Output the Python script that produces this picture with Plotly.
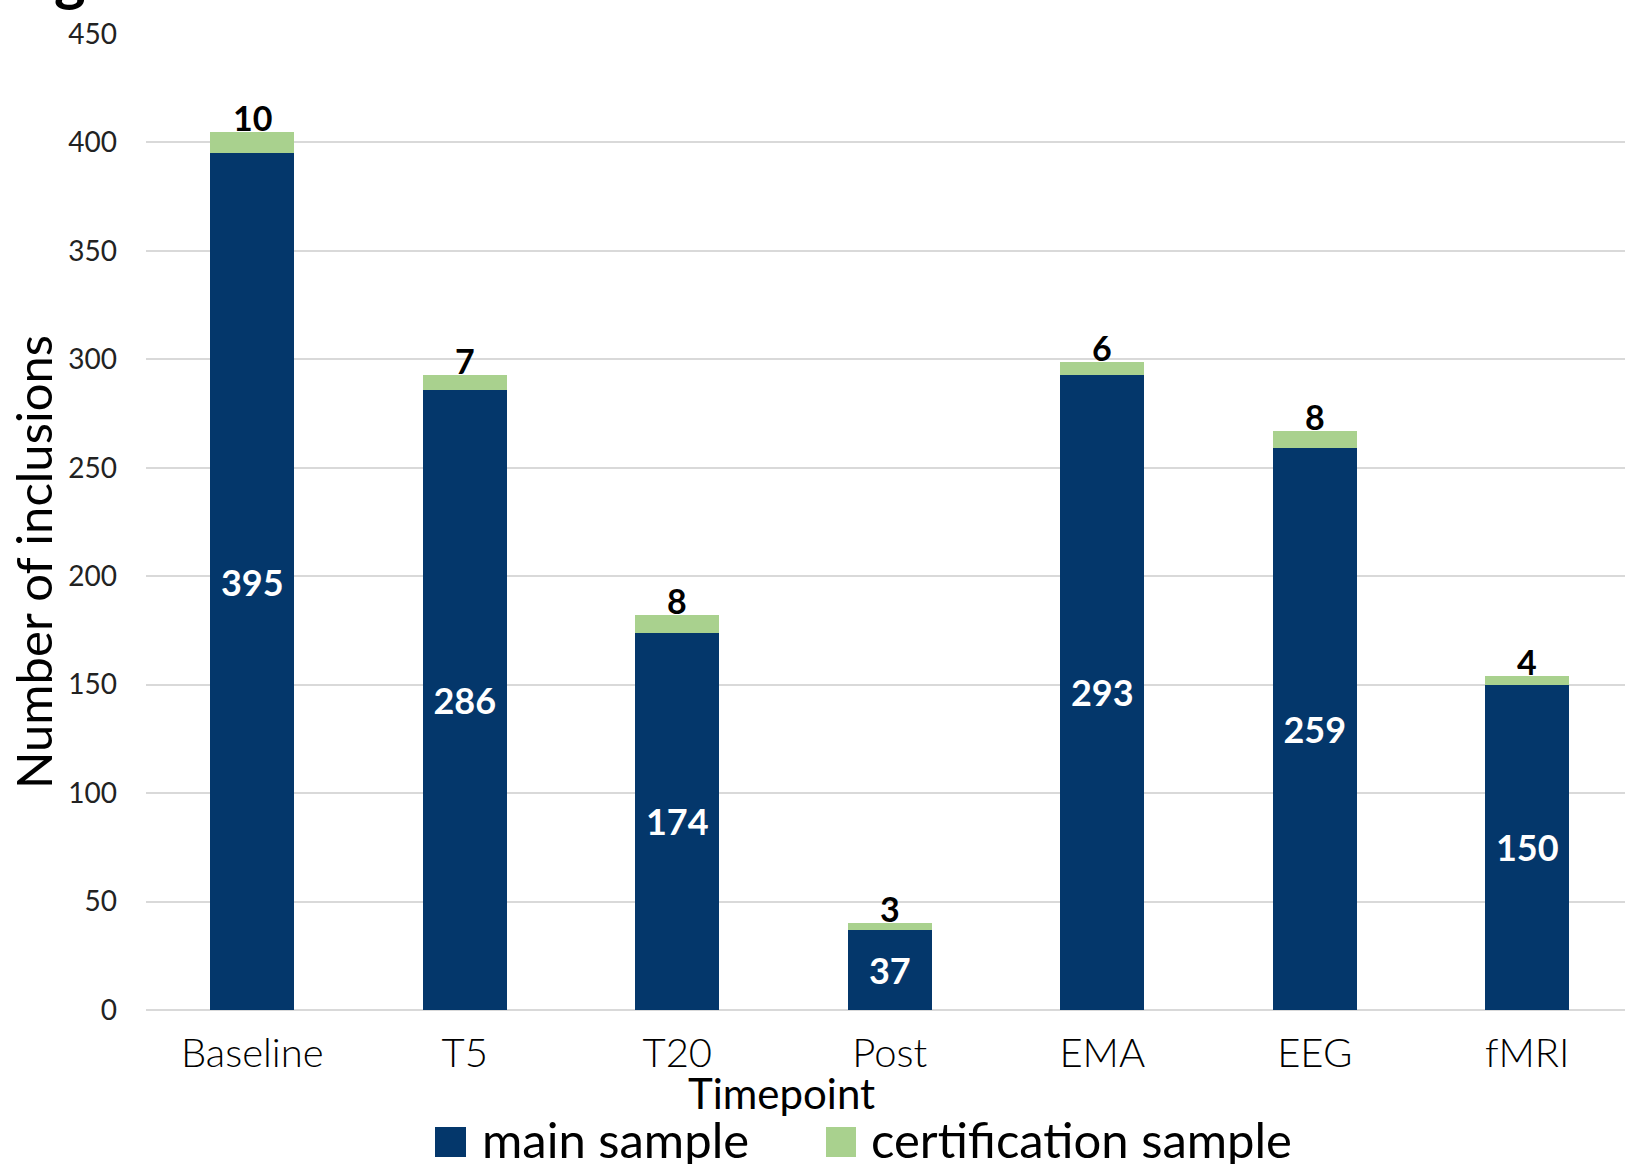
import plotly.graph_objects as go

categories = ["Baseline", "T5", "T20", "Post", "EMA", "EEG", "fMRI"]
main_sample = [395, 286, 174, 37, 293, 259, 150]
cert_sample = [10, 7, 8, 3, 6, 8, 4]
y_ticks = [0, 50, 100, 150, 200, 250, 300, 350, 400, 450]

NAVY = "#04376B"
GREEN = "#A9D18E"
FONT = "Lato"

W, H = 1625, 1164
L, R, T, B = 146, 0, 34, 154
plot_h = H - T - B
plot_w = W - L - R

def py(pix):
    return (H - B - pix) / plot_h

def px(pix):
    return (pix - L) / plot_w

fig = go.Figure()
fig.add_trace(go.Bar(
    x=categories, y=main_sample, name="main sample",
    marker=dict(color=NAVY, line=dict(width=0)),
    text=[str(v) for v in main_sample], textposition="inside",
    insidetextanchor="middle", constraintext="none",
    textfont=dict(family=FONT, size=36, color="white", weight="bold"),
    showlegend=False,
))
fig.add_trace(go.Bar(
    x=categories, y=cert_sample, name="certification sample",
    marker=dict(color=GREEN, line=dict(width=0)),
    showlegend=False,
))

fig.update_layout(
    width=W, height=H,
    margin=dict(l=L, r=R, t=T, b=B, pad=0),
    barmode="stack", bargap=0.605,
    plot_bgcolor="white", paper_bgcolor="white",
    font=dict(family=FONT, color="black"),
    xaxis=dict(
        range=[-0.5, -0.5 + plot_w / 212.5],
        showgrid=False, showline=False, ticks="",
        tickfont=dict(family=FONT, size=40, color="black", weight=300),
        ticklabelstandoff=16,
    ),
    yaxis=dict(
        range=[0, 450], tickvals=y_ticks,
        showgrid=True, gridcolor="#D9D9D9", gridwidth=2,
        zeroline=True, zerolinecolor="#D9D9D9", zerolinewidth=2,
        showline=False, ticks="",
        tickfont=dict(family=FONT, size=28, color="#222222"),
        ticklabelstandoff=28,
    ),
)

annotations = []
for cat, m, c in zip(categories, main_sample, cert_sample):
    annotations.append(dict(
        text=str(c), x=cat, y=m + c, xref="x", yref="y",
        xanchor="center", yanchor="bottom", yshift=-8, showarrow=False,
        font=dict(family=FONT, size=34, color="black", weight="bold"),
    ))

annotations += [
    dict(text="Number of inclusions", textangle=-90, x=px(33), y=py(562),
         xref="paper", yref="paper", xanchor="center", yanchor="middle",
         showarrow=False, font=dict(family=FONT, size=49, color="black")),
    dict(text="Timepoint", x=px(781), y=py(1093),
         xref="paper", yref="paper", xanchor="center", yanchor="middle",
         showarrow=False, font=dict(family=FONT, size=42, color="black")),
    dict(text="main sample", x=px(480), y=py(1139),
         xref="paper", yref="paper", xanchor="left", yanchor="middle",
         showarrow=False, font=dict(family=FONT, size=49, color="black")),
    dict(text="certification sample", x=px(869), y=py(1139),
         xref="paper", yref="paper", xanchor="left", yanchor="middle",
         showarrow=False, font=dict(family=FONT, size=49, color="black")),
    dict(text="<b>g</b>", x=px(70), y=py(14),
         xref="paper", yref="paper", xanchor="center", yanchor="bottom",
         showarrow=False, font=dict(family=FONT, size=60, color="black")),
]
fig.update_layout(annotations=annotations)

fig.add_shape(type="rect", xref="paper", yref="paper",
              x0=px(435), x1=px(466), y0=py(1157), y1=py(1127),
              fillcolor=NAVY, line=dict(width=0))
fig.add_shape(type="rect", xref="paper", yref="paper",
              x0=px(826), x1=px(856), y0=py(1157), y1=py(1127),
              fillcolor=GREEN, line=dict(width=0))

fig.write_html("out.html")
